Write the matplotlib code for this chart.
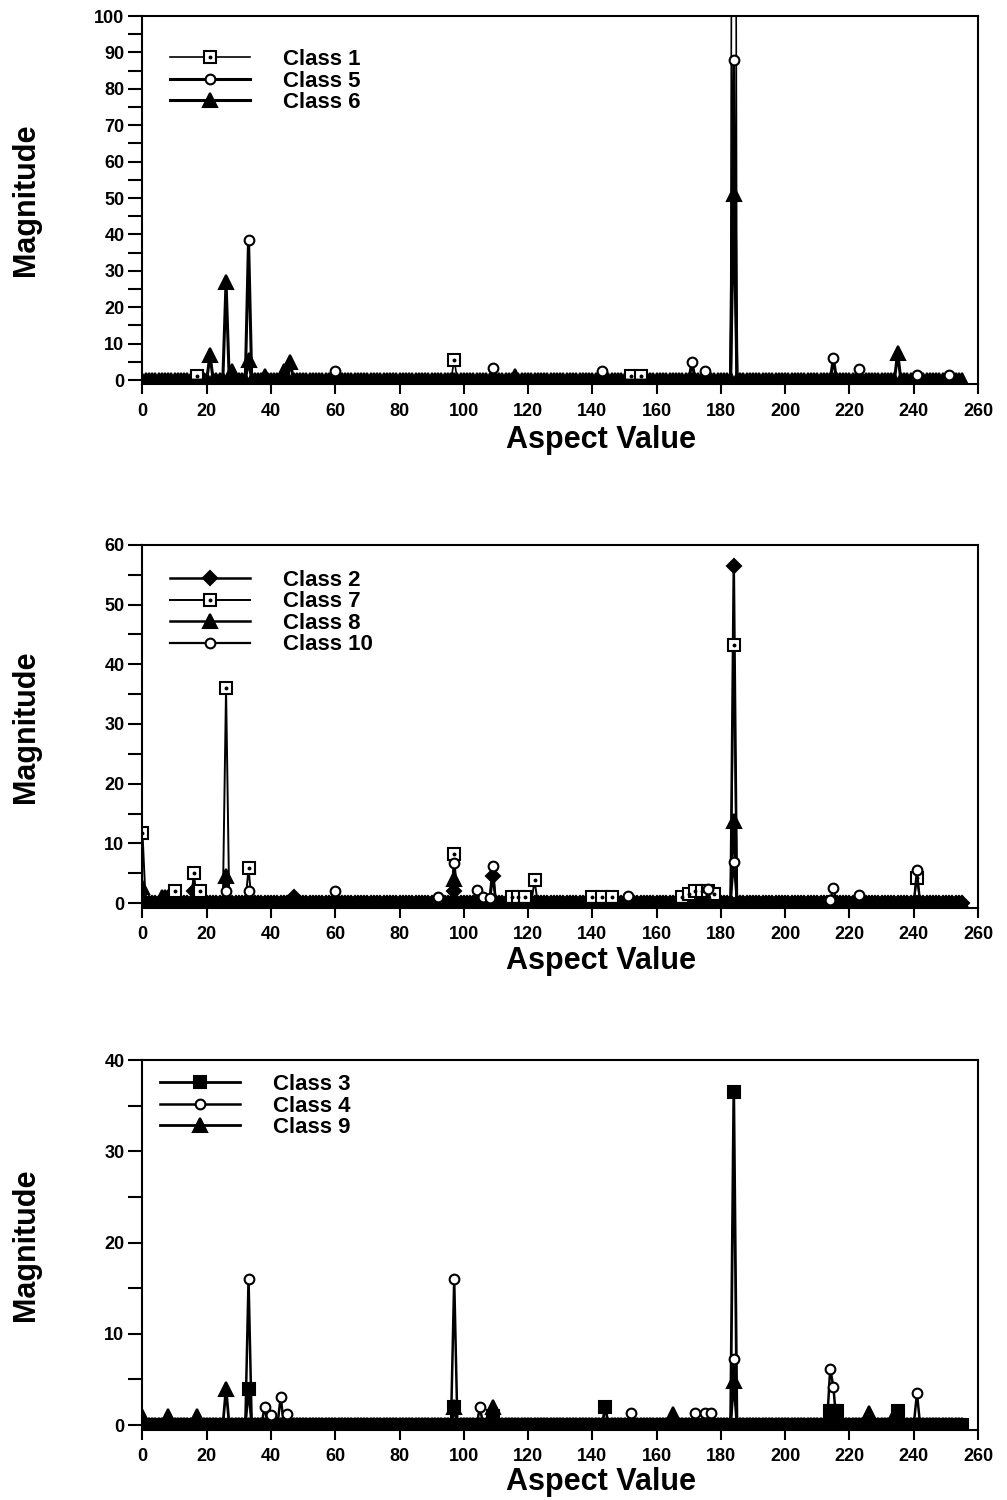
"""
Magnitude spectra of aspect values for the ten classes, three panels.
"""

import numpy as np
import matplotlib
matplotlib.use('Agg')
import matplotlib.pyplot as plt
from matplotlib.lines import Line2D
from matplotlib.legend_handler import HandlerTuple
from matplotlib.ticker import MultipleLocator

plt.rcParams['font.family'] = ['Liberation Sans', 'DejaVu Sans']
plt.rcParams['font.weight'] = 'bold'

# aspect values 0..255, every series is zero except at the listed spikes
aspect = np.arange(256)

# panel 1
class1_x = [17, 97, 152, 155, 184]
class1_y = [1, 5.5, 1, 1, 400]
class5_x = [33, 60, 109, 143, 171, 175, 184, 215, 223, 241, 251]
class5_y = [38.5, 2.5, 3.2, 2.5, 5, 2.5, 88, 6, 3, 1.5, 1.5]
class6_x = [21, 26, 28, 33, 38, 44, 46, 116, 184, 235]
class6_y = [7, 27, 2.5, 5.5, 1, 2.5, 5, 1, 51, 7.5]

# panel 2
class2_x = [16, 47, 97, 109, 184]
class2_y = [2, 1, 2, 4.5, 56.5]
class7_x = [0, 10, 16, 18, 26, 33, 97, 115, 117, 119, 122, 140, 143, 146,
            168, 170, 172, 174, 176, 178, 184, 241]
class7_y = [11.7, 2, 5, 2, 36, 5.8, 8.2, 1, 1, 1, 3.8, 1, 1, 1,
            1, 1.5, 2, 2, 2, 1.5, 43.2, 4.2]
class8_x = [0, 6, 7, 8, 26, 97, 184]
class8_y = [2.7, 1, 1, 1, 4.5, 4, 13.8]
class10_x = [26, 33, 60, 92, 97, 104, 106, 108, 109, 151, 176, 184, 214, 215, 223, 241]
class10_y = [2, 2, 2, 1, 6.7, 2.2, 1, 0.8, 6.2, 1.2, 2.3, 6.8, 0.5, 2.5, 1.3, 5.5]

# panel 3
class3_x = [33, 97, 109, 144, 184, 214, 215, 216, 235]
class3_y = [4, 2, 1, 2, 36.5, 1.5, 1.5, 1.5, 1.5]
class4_x = [33, 38, 40, 43, 45, 97, 105, 152, 172, 175, 177, 184, 214, 215, 241]
class4_y = [16, 2, 1.1, 3.1, 1.2, 16, 2, 1.3, 1.3, 1.3, 1.3, 7.2, 6.2, 4.2, 3.5]
class9_x = [0, 8, 17, 26, 97, 109, 165, 184, 226, 234]
class9_y = [1, 1, 1, 4, 2, 2, 1.2, 4.8, 1.3, 1]

x_ticks = list(range(0, 261, 20))

# marker styles: (marker, size, face, dotted centre)
STYLES = {
    'square_dot': ('s', 8, 'white', True),
    'circle': ('o', 7, 'white', False),
    'triangle': ('^', 9.5, 'black', False),
    'diamond': ('D', 7, 'black', False),
    'square': ('s', 8.5, 'black', False),
}

LEGEND_KW = dict(handler_map={tuple: HandlerTuple(ndivide=1)},
                 loc='upper left', frameon=False, fontsize=16,
                 labelspacing=0.02, handlelength=3.6, handletextpad=1.5,
                 borderpad=0, borderaxespad=0, numpoints=1)


def build(xs, ys):
    y = np.zeros(len(aspect))
    y[xs] = ys
    return y


def draw_series(ax, xs, ys, style, lw):
    marker, ms, face, dotted = STYLES[style]
    y = build(xs, ys)
    if face == 'white':
        every = list(np.nonzero(y)[0])
    else:
        every = None
    ax.plot(aspect, y, color='black', lw=lw, marker=marker, ms=ms,
            mfc=face, mec='black', mew=1.5, markevery=every)
    if dotted:
        ax.plot(aspect[every], y[every], ls='none', marker='o', ms=1.8,
                color='black')
    proxy = Line2D([], [], color='black', lw=lw, marker=marker, ms=ms,
                   mfc=face, mec='black', mew=1.5)
    if dotted:
        dot = Line2D([], [], ls='none', marker='o', ms=1.8, color='black')
        return (proxy, dot)
    return proxy


def style_axes(ax, ymax, ybottom, xlabel_y):
    ax.set_xlim(0, 260)
    ax.set_ylim(ybottom, ymax)
    ax.set_xticks(x_ticks)
    ax.yaxis.set_major_locator(MultipleLocator(10))
    ax.yaxis.set_minor_locator(MultipleLocator(5))
    ax.tick_params(axis='both', which='both', direction='out', length=7,
                   width=1.5, labelsize=13, pad=6)
    ax.tick_params(axis='x', which='minor', bottom=False)
    ax.tick_params(axis='y', which='both', length=10, pad=3)
    for side in ax.spines.values():
        side.set_linewidth(1.5)
    ax.set_xlabel('Aspect Value', fontsize=22, fontweight='bold')
    ax.set_ylabel('Magnitude', fontsize=22, fontweight='bold')
    ax.yaxis.set_label_coords(-0.122, 0.5)
    ax.xaxis.set_label_coords(0.549, xlabel_y)


fig = plt.figure(figsize=(10.07, 15), dpi=100)

left, width = 0.1415, 0.8297
ax1 = fig.add_axes([left, 0.7437, width, 0.2456])
ax2 = fig.add_axes([left, 0.3948, width, 0.2419])
ax3 = fig.add_axes([left, 0.0469, width, 0.2464])

# panel 1
h6 = draw_series(ax1, class6_x, class6_y, 'triangle', 2.2)
h1 = draw_series(ax1, class1_x, class1_y, 'square_dot', 1.2)
h5 = draw_series(ax1, class5_x, class5_y, 'circle', 2.2)
style_axes(ax1, 100, -1.2, -0.110)
ax1.legend([h1, h5, h6], ['Class 1', 'Class 5', 'Class 6'],
           bbox_to_anchor=(0.033, 0.910), **LEGEND_KW)

# panel 2
h2 = draw_series(ax2, class2_x, class2_y, 'diamond', 1.8)
h8 = draw_series(ax2, class8_x, class8_y, 'triangle', 1.8)
h7 = draw_series(ax2, class7_x, class7_y, 'square_dot', 1.4)
h10 = draw_series(ax2, class10_x, class10_y, 'circle', 1.6)
style_axes(ax2, 60, -0.8, -0.105)
ax2.legend([h2, h7, h8, h10], ['Class 2', 'Class 7', 'Class 8', 'Class 10'],
           bbox_to_anchor=(0.033, 0.931), **LEGEND_KW)

# panel 3
h3 = draw_series(ax3, class3_x, class3_y, 'square', 2.0)
h9 = draw_series(ax3, class9_x, class9_y, 'triangle', 2.0)
h4 = draw_series(ax3, class4_x, class4_y, 'circle', 1.8)
style_axes(ax3, 40, -0.5, -0.101)
ax3.legend([h3, h4, h9], ['Class 3', 'Class 4', 'Class 9'],
           bbox_to_anchor=(0.021, 0.962), **LEGEND_KW)

fig.savefig('out.png', dpi=100)
